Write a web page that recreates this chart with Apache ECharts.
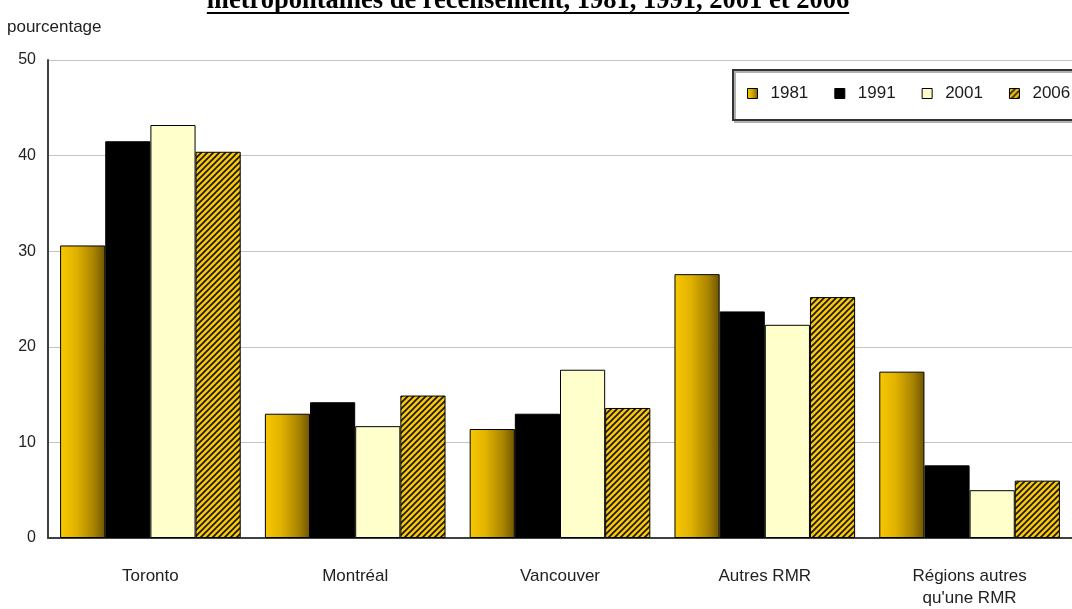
<!DOCTYPE html>
<html>
<head>
<meta charset="utf-8">
<script src="https://cdn.jsdelivr.net/npm/echarts@6/dist/echarts.min.js"></script>
<style>
  html, body { margin: 0; padding: 0; background: #ffffff; }
  #chart { width: 1072px; height: 609px; }
</style>
</head>
<body>
<div id="chart"></div>
<script>
// Categories, years and shares (percent) per year
const categories = ['Toronto', 'Montréal', 'Vancouver', 'Autres RMR', 'Régions autres\nqu\'une RMR'];
const years = ['1981', '1991', '2001', '2006'];
const share1981 = [30.6, 13.0, 11.4, 27.6, 17.4];
const share1991 = [41.5, 14.2, 13.0, 23.7, 7.6];
const share2001 = [43.2, 11.7, 17.6, 22.3, 5.0];
const share2006 = [40.4, 14.9, 13.6, 25.2, 6.0];
const yTicks = [0, 10, 20, 30, 40, 50];

const titleText = 'métropolitaines de recensement, 1981, 1991, 2001 et 2006';
const yAxisName = 'pourcentage';

const labelFont = '"Liberation Sans", Arial, sans-serif';
const titleFont = 'bold 26.5px "Liberation Serif", "Times New Roman", serif';

// Diagonal hatch tile for the 2006 bars
function hatchTile() {
  const s = 6;
  const c = document.createElement('canvas');
  c.width = s; c.height = s;
  const g = c.getContext('2d');
  g.fillStyle = '#f4c614';
  g.fillRect(0, 0, s, s);
  g.strokeStyle = '#1a1400';
  g.lineWidth = 1.6;
  g.beginPath();
  g.moveTo(-1, s + 1); g.lineTo(s + 1, -1);
  g.moveTo(-1, 1); g.lineTo(1, -1);
  g.moveTo(s - 1, s + 1); g.lineTo(s + 1, s - 1);
  g.stroke();
  return c;
}

// Width of the title, used for its underline
function textWidth(text, font) {
  const g = document.createElement('canvas').getContext('2d');
  g.font = font;
  return g.measureText(text).width;
}

const gold = {
  type: 'linear', x: 0, y: 0, x2: 1, y2: 0,
  colorStops: [
    { offset: 0, color: '#f8c800' },
    { offset: 0.35, color: '#e2b300' },
    { offset: 0.75, color: '#a88300' },
    { offset: 1, color: '#6f5500' }
  ]
};

const fills = [gold, '#000000', '#ffffcc', { image: hatchTile(), repeat: 'repeat' }];
const values = [share1981, share1991, share2001, share2006];

const chart = echarts.init(document.getElementById('chart'), null, { renderer: 'canvas' });

const titleX = 528;
const titleW = textWidth(titleText, titleFont);

chart.setOption({
  animation: false,
  backgroundColor: '#ffffff',
  textStyle: { fontFamily: labelFont },
  graphic: [
    {
      type: 'text',
      x: titleX, y: 1,
      style: {
        text: titleText,
        font: titleFont,
        fill: '#000',
        textAlign: 'center',
        textVerticalAlign: 'middle'
      }
    },
    {
      type: 'line',
      shape: { x1: titleX - titleW / 2, y1: 13, x2: titleX + titleW / 2, y2: 13 },
      style: { stroke: '#000', lineWidth: 2 }
    },
    {
      type: 'text',
      x: 7, y: 27,
      style: {
        text: yAxisName,
        font: '17px ' + labelFont,
        fill: '#222',
        textAlign: 'left',
        textVerticalAlign: 'middle'
      }
    }
  ],
  legend: {
    data: years,
    icon: 'rect',
    left: 733,
    top: 70,
    width: 420,
    orient: 'horizontal',
    itemWidth: 10,
    itemHeight: 10,
    itemGap: 26,
    padding: [15, 40, 18, 14],
    borderColor: '#333',
    borderWidth: 2,
    borderRadius: 0,
    backgroundColor: '#fff',
    shadowColor: '#b0b0b0',
    shadowOffsetX: 2,
    shadowOffsetY: 2,
    shadowBlur: 0,
    textStyle: { fontSize: 17, color: '#1a1a1a', fontFamily: labelFont, padding: [0, 0, 0, 8] },
    itemStyle: { borderColor: '#000', borderWidth: 1 }
  },
  grid: {
    left: 48,
    top: 60,
    width: 1037,
    height: 481,
    containLabel: false
  },
  xAxis: {
    type: 'category',
    data: categories,
    axisLine: { show: true, lineStyle: { color: '#404040', width: 2 } },
    axisTick: { show: false },
    axisLabel: {
      fontSize: 17,
      color: '#222',
      margin: 27,
      lineHeight: 22,
      interval: 0
    },
    splitLine: { show: false }
  },
  yAxis: {
    type: 'value',
    min: yTicks[0],
    max: yTicks[yTicks.length - 1],
    interval: 10,
    axisLine: { show: true, lineStyle: { color: '#404040', width: 2 } },
    axisTick: { show: false },
    axisLabel: { fontSize: 16, color: '#222', margin: 12 },
    splitLine: { show: true, lineStyle: { color: '#c4c4c4', width: 1 } }
  },
  series: years.map((y, i) => ({
    name: y,
    type: 'bar',
    data: values[i],
    barGap: '0%',
    barCategoryGap: '11.8%',
    itemStyle: { color: fills[i], borderColor: '#000', borderWidth: 1 },
    emphasis: { disabled: true }
  }))
});
</script>
</body>
</html>
